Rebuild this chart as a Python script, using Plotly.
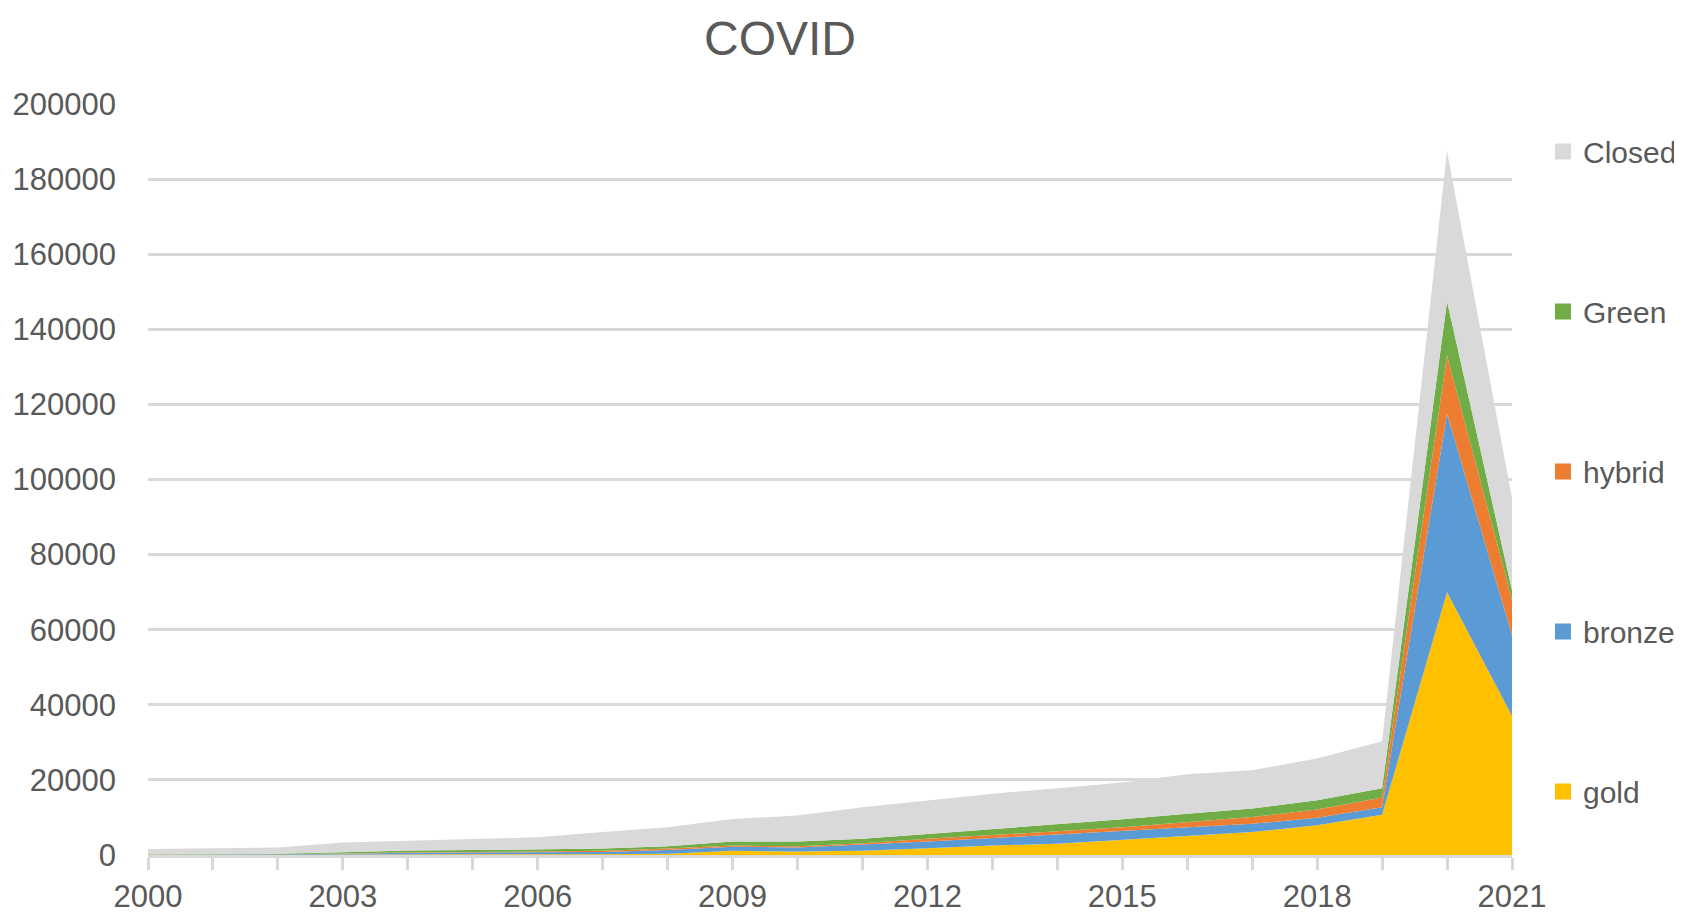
import plotly.graph_objects as go

years = list(range(2000, 2022))

# values (stacked areas, bottom to top)
gold = [50, 50, 60, 80, 100, 120, 150, 200, 300, 1100, 900,
        1100, 1800, 2500, 3000, 4000, 5000, 6100, 7900, 10700, 70000, 37000]
bronze = [50, 50, 90, 220, 500, 480, 550, 600, 1000, 1100, 1100,
          1600, 1800, 2000, 2400, 2300, 2200, 2200, 2000, 2000, 47500, 21500]
hybrid = [30, 30, 30, 100, 150, 200, 200, 300, 400, 300, 300,
          400, 700, 700, 900, 1100, 1600, 1800, 2200, 2600, 15500, 9500]
green = [70, 70, 120, 300, 450, 500, 500, 600, 600, 1100, 1300,
         1200, 1300, 1700, 1800, 2100, 2200, 2300, 2500, 2500, 14500, 2500]
closed = [1400, 1600, 1700, 2600, 2600, 2900, 3300, 4400, 5100, 6000, 6900,
          8400, 9000, 9400, 9700, 9800, 10500, 10200, 11100, 12500, 40000, 24500]

series = [
    ("gold", gold, "#FFC000"),
    ("bronze", bronze, "#5B9BD5"),
    ("hybrid", hybrid, "#ED7D31"),
    ("Green", green, "#70AD47"),
    ("Closed", closed, "#D9D9D9"),
]

TEXT = "#595959"
GRID = "#D9D9D9"
FONT = "Liberation Sans, Arial"

# page body has an 8px margin, so the figure is 8px smaller than the window
W, H = 1674, 912

fig = go.Figure()

for name, vals, color in series:
    fig.add_trace(go.Scatter(
        x=years, y=vals,
        name=name,
        mode="lines",
        stackgroup="one",
        line=dict(width=0, color=color),
        fillcolor=color,
        showlegend=False,
    ))

# square legend markers, top of the stack first
for name, vals, color in reversed(series):
    fig.add_trace(go.Scatter(
        x=[None], y=[None],
        name=name,
        mode="markers",
        marker=dict(symbol="square", size=22, color=color),
        legendgroup=name,
        showlegend=True,
    ))

fig.update_layout(
    width=W, height=H,
    paper_bgcolor="white",
    plot_bgcolor="white",
    margin=dict(l=140, r=170, t=96, b=65, autoexpand=False),
    title=dict(
        text="COVID",
        x=772 / W, xanchor="center", xref="container",
        y=1 - 30 / H, yanchor="middle",
        font=dict(family=FONT, size=48, color=TEXT),
    ),
    legend=dict(
        x=1.0227, xanchor="left",
        y=0.9714, yanchor="top",
        traceorder="grouped",
        tracegroupgap=118,
        font=dict(family=FONT, size=30, color=TEXT),
        bgcolor="rgba(0,0,0,0)",
    ),
    xaxis=dict(
        range=[2000, 2021],
        tick0=2000, dtick=3,
        showgrid=False,
        zeroline=False,
        showline=True, linecolor=GRID, linewidth=3,
        ticks="outside", ticklen=12, tickwidth=3, tickcolor=GRID,
        minor=dict(dtick=1, ticks="outside", ticklen=12, tickwidth=3, tickcolor=GRID, showgrid=False),
        tickfont=dict(family=FONT, size=31, color=TEXT),
    ),
    yaxis=dict(
        range=[0, 200000],
        dtick=20000,
        tickformat="d",
        showgrid=True, gridcolor=GRID, gridwidth=2.5,
        zeroline=False,
        showline=False,
        ticks="",
        ticklabelstandoff=31,
        tickfont=dict(family=FONT, size=31, color=TEXT),
    ),
)

fig.write_html("out.html")
